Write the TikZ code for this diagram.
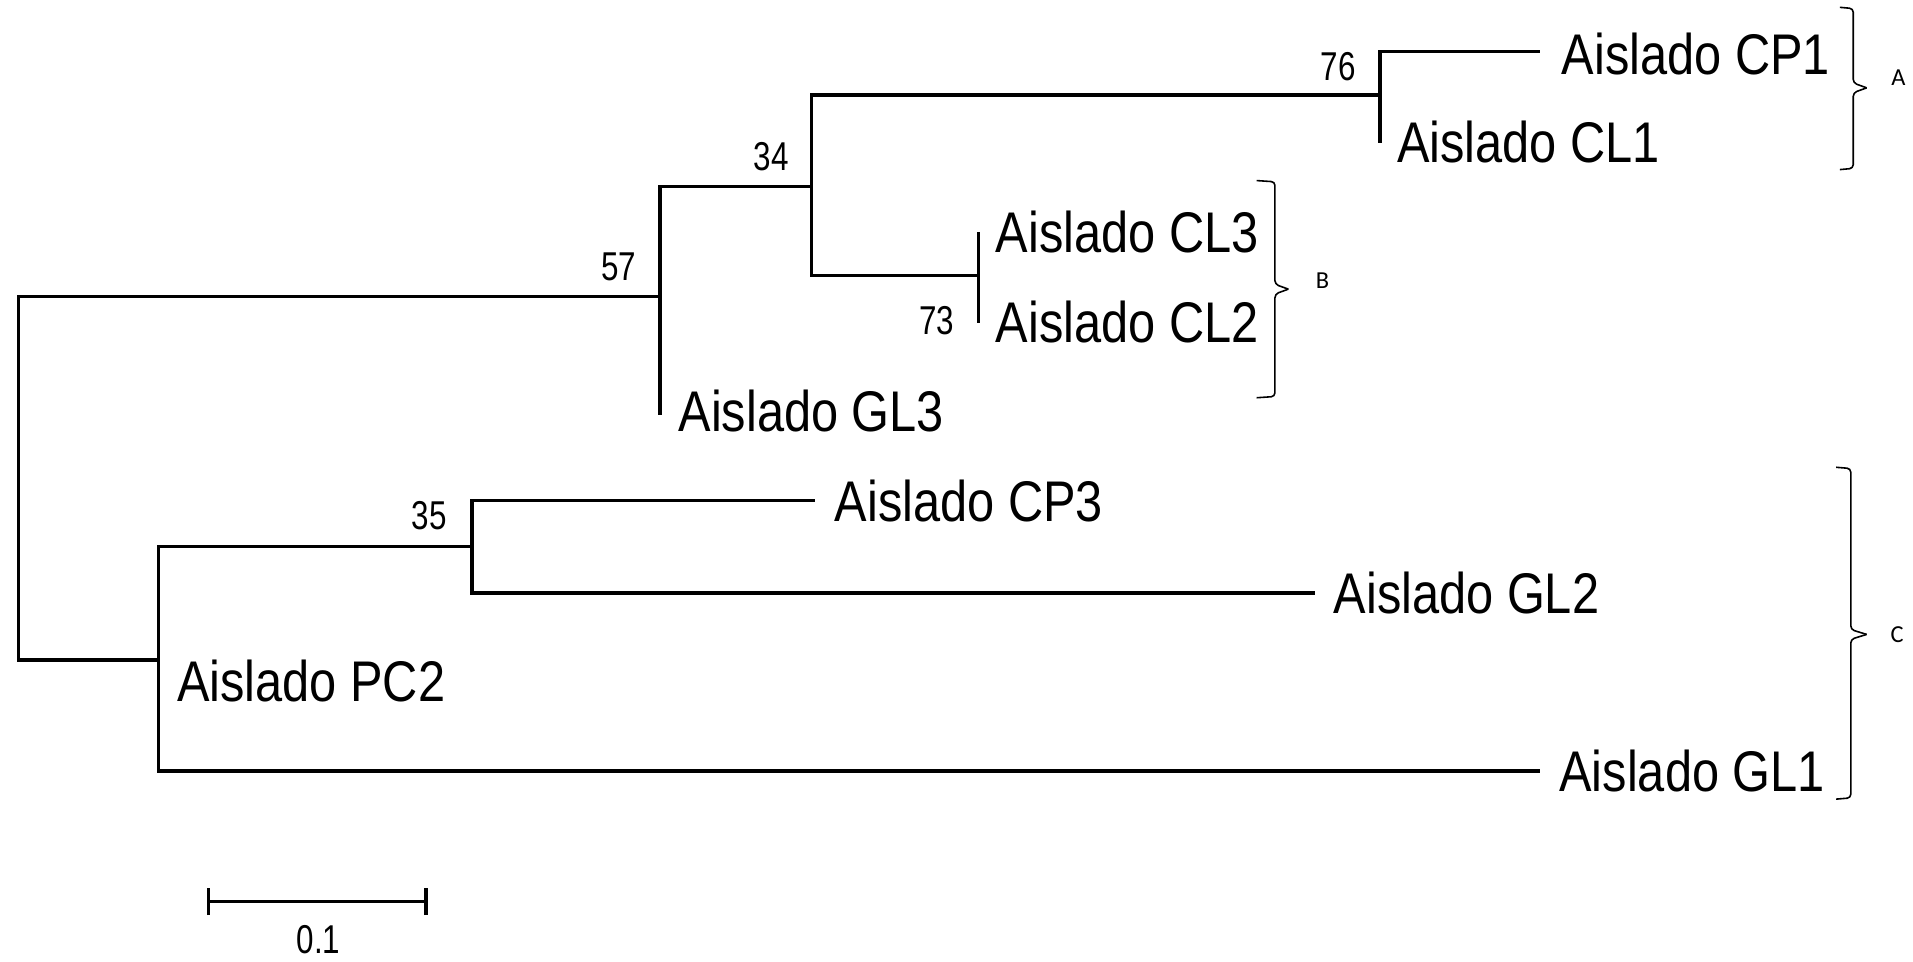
\documentclass[tikz,border=0pt]{standalone}
\usepackage{fontspec}
\setmainfont{Liberation Sans}[FakeStretch=0.85]
\newfontfamily\numfont{Liberation Sans}[FakeStretch=0.78]
\newfontfamily\grpfont{Carlito}
\begin{document}
\begin{tikzpicture}[x=1pt,y=-1pt,
  br/.style={line width=2.8pt,line join=miter},
  leaf/.style={anchor=west,inner sep=0pt,font=\fontsize{47}{50}\selectfont},
  boot/.style={inner sep=0pt,font=\numfont\fontsize{33}{35}\selectfont},
  grp/.style={line width=1.3pt,rounded corners=3pt},
  grplab/.style={inner sep=0pt,font=\grpfont\fontsize{20}{22}\selectfont}]
\useasboundingbox (0,0) rectangle (1568,788);
% tree coordinates
\coordinate (rt) at (15,243);
\coordinate (rb) at (15,541);
\coordinate (n57) at (541,243);
\coordinate (n57t) at (541,153);
\coordinate (gl3e) at (541,340);
\coordinate (n34) at (665,153);
\coordinate (n34t) at (665,78);
\coordinate (n34b) at (665,226);
\coordinate (n76) at (1131,78);
\coordinate (n76t) at (1131,42);
\coordinate (n76b) at (1131,117);
\coordinate (cp1e) at (1262,42);
\coordinate (n73) at (802,226);
\coordinate (n73t) at (802,190);
\coordinate (n73b) at (802,265);
\coordinate (nc) at (130,541);
\coordinate (nct) at (130,448);
\coordinate (ncb) at (130,632);
\coordinate (n35) at (387,448);
\coordinate (n35t) at (387,410);
\coordinate (n35b) at (387,486);
\coordinate (cp3e) at (668,410);
\coordinate (gl2e) at (1078,486);
\coordinate (gl1e) at (1262,632);
% branches
\draw[br] (n57) -- (rt) -- (rb) -- (nc);
\draw[br] (gl3e) -- (n57t) -- (n34);
\draw[br] (n76) -- (n34t) -- (n34b) -- (n73);
\draw[br] (n76b) -- (n76t) -- (cp1e);
\draw[br] (n73t) -- (n73b);
\draw[br] (n35) -- (nct) -- (ncb) -- (gl1e);
\draw[br] (cp3e) -- (n35t) -- (n35b) -- (gl2e);
% leaf labels
\node[leaf] (cp1) at (1280,44) {Aislado CP1};
\node[leaf] (cl1) at (1145,116) {Aislado CL1};
\node[leaf] (cl3) at (816,190) {Aislado CL3};
\node[leaf] (cl2) at (816,264) {Aislado CL2};
\node[leaf] (gl3) at (556,337) {Aislado GL3};
\node[leaf] (cp3) at (684,411) {Aislado CP3};
\node[leaf] (gl2) at (1093,486) {Aislado GL2};
\node[leaf] (pc2) at (145,558) {Aislado PC2};
\node[leaf] (gl1) at (1278,632) {Aislado GL1};
% bootstrap values
\node[boot] (b76) at (1097,55) {76};
\node[boot] (b34) at (632,128) {34};
\node[boot] (b57) at (507,219) {57};
\node[boot] (b73) at (768,263) {73};
\node[boot] (b35) at (352,423) {35};
% group brackets
\draw[grp] (1508,6) -- (1519,7) -- (1519,68) -- (1530,72);
\draw[grp] (1530,72) -- (1519,76) -- (1519,138) -- (1508,139);
\node[grplab] (ga) at (1556,64) {A};
\draw[grp] (1030,148) -- (1045,149) -- (1045,233) -- (1056,237);
\draw[grp] (1056,237) -- (1045,241) -- (1045,325) -- (1030,326);
\node[grplab] (gb) at (1084,230) {B};
\draw[grp] (1505,383) -- (1517,384) -- (1517,516) -- (1530,520);
\draw[grp] (1530,520) -- (1517,524) -- (1517,654) -- (1505,655);
\node[grplab] (gc) at (1555,520) {C};
% scale bar
\coordinate (s1) at (171,739);
\coordinate (s2) at (349,739);
\draw[br] (s1) -- (s2);
\draw[br] ([yshift=-11pt]s1) -- ([yshift=11pt]s1);
\draw[br] ([yshift=-11pt]s2) -- ([yshift=11pt]s2);
\node[boot] (sl) at (261,770) {0.1};
\end{tikzpicture}
\end{document}
